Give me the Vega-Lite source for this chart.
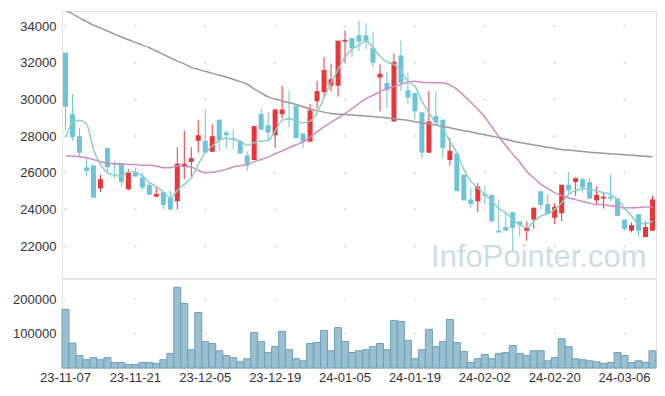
{
  "$schema": "https://vega.github.io/schema/vega-lite/v6.json",
  "padding": {"left": 12, "top": 10, "right": 10, "bottom": 0},
  "background": "white",
  "bounds": "flush",
  "config": {
    "view": {"stroke": "#e3e3e3"},
    "axis": {"labelFont": "Liberation Sans", "labelFontSize": 13, "labelColor": "#333333", "domain": false, "ticks": false, "grid": false, "title": null, "labelPadding": 6}
  },
  "spacing": 1,
  "datasets": {
    "stock": [
      {"d":"23-11-07","o":32550,"h":32550,"l":28300,"c":29600,"v":170000,"m5":27900,"m20":26900,"m60":34850},
      {"d":"23-11-08","o":29200,"h":30300,"l":27750,"c":27950,"v":72000,"m5":28730,"m20":26920,"m60":34660},
      {"d":"23-11-09","o":28000,"h":28450,"l":26900,"c":27100,"v":36000,"m5":28860,"m20":26880,"m60":34450},
      {"d":"23-11-10","o":26300,"h":26800,"l":25800,"c":26100,"v":24000,"m5":28680,"m20":26820,"m60":34250},
      {"d":"23-11-13","o":26400,"h":26450,"l":24650,"c":24650,"v":30000,"m5":27280,"m20":26730,"m60":34050},
      {"d":"23-11-14","o":25150,"h":25900,"l":24950,"c":25650,"v":24000,"m5":26460,"m20":26610,"m60":33900},
      {"d":"23-11-15","o":27350,"h":27350,"l":26000,"c":26300,"v":30000,"m5":26010,"m20":26520,"m60":33730},
      {"d":"23-11-16","o":26500,"h":26650,"l":25700,"c":26450,"v":16000,"m5":25880,"m20":26500,"m60":33560},
      {"d":"23-11-17","o":26500,"h":26500,"l":25250,"c":25500,"v":16000,"m5":25830,"m20":26500,"m60":33400},
      {"d":"23-11-20","o":25100,"h":26200,"l":25050,"c":26000,"v":10000,"m5":26060,"m20":26460,"m60":33250},
      {"d":"23-11-21","o":26000,"h":26300,"l":25800,"c":25800,"v":10000,"m5":26040,"m20":26460,"m60":33110},
      {"d":"23-11-22","o":25750,"h":26000,"l":25050,"c":25200,"v":16000,"m5":25830,"m20":26410,"m60":32960},
      {"d":"23-11-23","o":25350,"h":25450,"l":24800,"c":24800,"v":16000,"m5":25500,"m20":26420,"m60":32820},
      {"d":"23-11-24","o":24700,"h":25250,"l":24700,"c":24850,"v":13000,"m5":25230,"m20":26370,"m60":32640},
      {"d":"23-11-27","o":24950,"h":24950,"l":24000,"c":24250,"v":24000,"m5":24970,"m20":26280,"m60":32460},
      {"d":"23-11-28","o":24650,"h":25050,"l":24000,"c":24000,"v":42000,"m5":24640,"m20":26280,"m60":32270},
      {"d":"23-11-29","o":24450,"h":27400,"l":24000,"c":26500,"v":234000,"m5":25040,"m20":26370,"m60":32090},
      {"d":"23-11-30","o":26350,"h":28300,"l":25650,"c":26500,"v":187000,"m5":25370,"m20":26350,"m60":31940},
      {"d":"23-12-01","o":26600,"h":27400,"l":25800,"c":26800,"v":53000,"m5":25730,"m20":26320,"m60":31750},
      {"d":"23-12-04","o":27750,"h":28900,"l":27100,"c":28050,"v":161000,"m5":26460,"m20":26130,"m60":31640},
      {"d":"23-12-05","o":27750,"h":29450,"l":27100,"c":27100,"v":77000,"m5":27100,"m20":26010,"m60":31530},
      {"d":"23-12-06","o":27150,"h":28650,"l":27150,"c":28000,"v":71000,"m5":27460,"m20":26030,"m60":31420},
      {"d":"23-12-07","o":28900,"h":28900,"l":27200,"c":27800,"v":50000,"m5":27770,"m20":26100,"m60":31320},
      {"d":"23-12-08","o":28200,"h":28300,"l":27350,"c":28050,"v":36000,"m5":27880,"m20":26190,"m60":31220},
      {"d":"23-12-11","o":27900,"h":28350,"l":27300,"c":27800,"v":30000,"m5":27820,"m20":26320,"m60":31100},
      {"d":"23-12-12","o":27750,"h":27750,"l":27050,"c":27050,"v":18000,"m5":27730,"m20":26390,"m60":30970},
      {"d":"23-12-13","o":26950,"h":27150,"l":26100,"c":26400,"v":27000,"m5":27510,"m20":26460,"m60":30830},
      {"d":"23-12-14","o":26700,"h":28550,"l":26700,"c":28550,"v":103000,"m5":27640,"m20":26610,"m60":30580},
      {"d":"23-12-15","o":29200,"h":29500,"l":28350,"c":28350,"v":77000,"m5":27730,"m20":26730,"m60":30360},
      {"d":"23-12-18","o":28600,"h":29300,"l":27750,"c":28200,"v":45000,"m5":27770,"m20":26860,"m60":30140},
      {"d":"23-12-19","o":28050,"h":29500,"l":27350,"c":29450,"v":62000,"m5":28280,"m20":27040,"m60":30020},
      {"d":"23-12-20","o":29200,"h":30750,"l":28950,"c":29450,"v":106000,"m5":28860,"m20":27190,"m60":29920},
      {"d":"23-12-21","o":29000,"h":30500,"l":28500,"c":28900,"v":53000,"m5":28950,"m20":27370,"m60":29820},
      {"d":"23-12-22","o":29650,"h":29650,"l":27900,"c":27900,"v":27000,"m5":28820,"m20":27530,"m60":29720},
      {"d":"23-12-26","o":28150,"h":28150,"l":27350,"c":27700,"v":21000,"m5":28730,"m20":27690,"m60":29600},
      {"d":"23-12-27","o":27700,"h":29750,"l":27700,"c":29400,"v":71000,"m5":28820,"m20":27950,"m60":29480},
      {"d":"23-12-28","o":29900,"h":31000,"l":29500,"c":30450,"v":74000,"m5":29280,"m20":28230,"m60":29390},
      {"d":"24-01-02","o":30400,"h":32300,"l":30100,"c":31600,"v":109000,"m5":30090,"m20":28520,"m60":29310},
      {"d":"24-01-03","o":30750,"h":31950,"l":30450,"c":31100,"v":50000,"m5":30910,"m20":28760,"m60":29230},
      {"d":"24-01-04","o":30750,"h":33200,"l":30150,"c":33200,"v":117000,"m5":31640,"m20":28990,"m60":29200},
      {"d":"24-01-05","o":33150,"h":33750,"l":32000,"c":33250,"v":77000,"m5":32310,"m20":29230,"m60":29180},
      {"d":"24-01-08","o":33350,"h":33350,"l":32300,"c":32800,"v":45000,"m5":32730,"m20":29500,"m60":29150},
      {"d":"24-01-09","o":33500,"h":34300,"l":32650,"c":33150,"v":50000,"m5":32960,"m20":29780,"m60":29130},
      {"d":"24-01-10","o":33500,"h":34150,"l":32750,"c":33150,"v":53000,"m5":33180,"m20":30040,"m60":29100},
      {"d":"24-01-11","o":32800,"h":33700,"l":31750,"c":32000,"v":62000,"m5":32820,"m20":30230,"m60":29070},
      {"d":"24-01-12","o":31200,"h":31900,"l":29350,"c":31400,"v":71000,"m5":32370,"m20":30420,"m60":29030},
      {"d":"24-01-15","o":30900,"h":31500,"l":29550,"c":30500,"v":53000,"m5":32040,"m20":30590,"m60":28990},
      {"d":"24-01-16","o":28800,"h":32500,"l":28800,"c":32050,"v":138000,"m5":31910,"m20":30700,"m60":28950},
      {"d":"24-01-17","o":32400,"h":33200,"l":30450,"c":30900,"v":135000,"m5":31550,"m20":30820,"m60":28910},
      {"d":"24-01-18","o":30500,"h":31450,"l":29750,"c":30100,"v":80000,"m5":31000,"m20":30940,"m60":28870},
      {"d":"24-01-19","o":30350,"h":30350,"l":28900,"c":29350,"v":27000,"m5":30730,"m20":30990,"m60":28790},
      {"d":"24-01-22","o":29300,"h":29300,"l":26800,"c":27100,"v":53000,"m5":29910,"m20":30940,"m60":28730},
      {"d":"24-01-23","o":27100,"h":30450,"l":27100,"c":28800,"v":112000,"m5":29280,"m20":30910,"m60":28680},
      {"d":"24-01-24","o":29100,"h":30450,"l":28750,"c":28750,"v":62000,"m5":28730,"m20":30910,"m60":28610},
      {"d":"24-01-25","o":28900,"h":28900,"l":26800,"c":27350,"v":77000,"m5":28370,"m20":30910,"m60":28530},
      {"d":"24-01-26","o":26700,"h":27900,"l":26400,"c":27200,"v":141000,"m5":27730,"m20":30790,"m60":28460},
      {"d":"24-01-29","o":27050,"h":27050,"l":25000,"c":25000,"v":74000,"m5":27100,"m20":30560,"m60":28380},
      {"d":"24-01-30","o":25900,"h":25900,"l":24500,"c":24500,"v":48000,"m5":26190,"m20":30210,"m60":28300},
      {"d":"24-01-31","o":24550,"h":25200,"l":24100,"c":24300,"v":16000,"m5":25550,"m20":29850,"m60":28230},
      {"d":"24-02-01","o":24450,"h":25450,"l":23850,"c":25250,"v":27000,"m5":25190,"m20":29470,"m60":28150},
      {"d":"24-02-02","o":24850,"h":25300,"l":24300,"c":24750,"v":39000,"m5":24830,"m20":29040,"m60":28080},
      {"d":"24-02-05","o":24800,"h":24800,"l":23350,"c":23350,"v":27000,"m5":24460,"m20":28510,"m60":28000},
      {"d":"24-02-06","o":22850,"h":24550,"l":22750,"c":22750,"v":42000,"m5":24060,"m20":27980,"m60":27920},
      {"d":"24-02-07","o":23050,"h":23850,"l":22850,"c":22850,"v":45000,"m5":23830,"m20":27490,"m60":27830},
      {"d":"24-02-08","o":23850,"h":23850,"l":21750,"c":23000,"v":65000,"m5":23460,"m20":27020,"m60":27740},
      {"d":"24-02-13","o":23350,"h":23350,"l":22550,"c":23150,"v":42000,"m5":23190,"m20":26590,"m60":27650},
      {"d":"24-02-14","o":22850,"h":23350,"l":22300,"c":23000,"v":36000,"m5":23010,"m20":26080,"m60":27590},
      {"d":"24-02-15","o":23450,"h":24100,"l":22950,"c":24100,"v":50000,"m5":23340,"m20":25730,"m60":27520},
      {"d":"24-02-16","o":25000,"h":25000,"l":24000,"c":24250,"v":50000,"m5":23650,"m20":25390,"m60":27460},
      {"d":"24-02-19","o":24300,"h":24850,"l":23750,"c":23750,"v":21000,"m5":23770,"m20":25150,"m60":27400},
      {"d":"24-02-20","o":23550,"h":24350,"l":23200,"c":24150,"v":30000,"m5":24010,"m20":24910,"m60":27330},
      {"d":"24-02-21","o":23800,"h":25350,"l":23350,"c":25350,"v":85000,"m5":24370,"m20":24770,"m60":27270},
      {"d":"24-02-22","o":25350,"h":26050,"l":24850,"c":25050,"v":62000,"m5":24830,"m20":24630,"m60":27240},
      {"d":"24-02-23","o":25500,"h":25750,"l":24750,"c":25700,"v":27000,"m5":25040,"m20":24540,"m60":27200},
      {"d":"24-02-26","o":25650,"h":25750,"l":24900,"c":25200,"v":24000,"m5":25140,"m20":24440,"m60":27160},
      {"d":"24-02-27","o":25500,"h":25700,"l":24600,"c":24600,"v":21000,"m5":25100,"m20":24350,"m60":27120},
      {"d":"24-02-28","o":24500,"h":25250,"l":24300,"c":24800,"v":18000,"m5":25010,"m20":24280,"m60":27090},
      {"d":"24-02-29","o":24600,"h":24900,"l":24050,"c":24700,"v":13000,"m5":24920,"m20":24260,"m60":27070},
      {"d":"24-03-04","o":24700,"h":25900,"l":24450,"c":24600,"v":16000,"m5":24830,"m20":24210,"m60":27040},
      {"d":"24-03-05","o":24600,"h":24600,"l":23650,"c":23650,"v":45000,"m5":24550,"m20":24150,"m60":27020},
      {"d":"24-03-06","o":23450,"h":23450,"l":22850,"c":22950,"v":36000,"m5":24100,"m20":24100,"m60":26990},
      {"d":"24-03-07","o":22850,"h":23300,"l":22750,"c":23150,"v":16000,"m5":23650,"m20":24100,"m60":26960},
      {"d":"24-03-08","o":23750,"h":23750,"l":22550,"c":22850,"v":21000,"m5":23230,"m20":24110,"m60":26930},
      {"d":"24-03-11","o":22500,"h":23350,"l":22500,"c":23050,"v":16000,"m5":23230,"m20":24140,"m60":26900},
      {"d":"24-03-12","o":22850,"h":24750,"l":22850,"c":24550,"v":50000,"m5":23370,"m20":24150,"m60":26880}
    ],
    "grid": [
      {"d":"23-11-07","p":22000},{"d":"23-11-07","p":24000},{"d":"23-11-07","p":26000},{"d":"23-11-07","p":28000},{"d":"23-11-07","p":30000},{"d":"23-11-07","p":32000},{"d":"23-11-07","p":34000},
      {"d":"23-11-21","p":22000},{"d":"23-11-21","p":24000},{"d":"23-11-21","p":26000},{"d":"23-11-21","p":28000},{"d":"23-11-21","p":30000},{"d":"23-11-21","p":32000},{"d":"23-11-21","p":34000},
      {"d":"23-12-05","p":22000},{"d":"23-12-05","p":24000},{"d":"23-12-05","p":26000},{"d":"23-12-05","p":28000},{"d":"23-12-05","p":30000},{"d":"23-12-05","p":32000},{"d":"23-12-05","p":34000},
      {"d":"23-12-19","p":22000},{"d":"23-12-19","p":24000},{"d":"23-12-19","p":26000},{"d":"23-12-19","p":28000},{"d":"23-12-19","p":30000},{"d":"23-12-19","p":32000},{"d":"23-12-19","p":34000},
      {"d":"24-01-05","p":22000},{"d":"24-01-05","p":24000},{"d":"24-01-05","p":26000},{"d":"24-01-05","p":28000},{"d":"24-01-05","p":30000},{"d":"24-01-05","p":32000},{"d":"24-01-05","p":34000},
      {"d":"24-01-19","p":22000},{"d":"24-01-19","p":24000},{"d":"24-01-19","p":26000},{"d":"24-01-19","p":28000},{"d":"24-01-19","p":30000},{"d":"24-01-19","p":32000},{"d":"24-01-19","p":34000},
      {"d":"24-02-02","p":22000},{"d":"24-02-02","p":24000},{"d":"24-02-02","p":26000},{"d":"24-02-02","p":28000},{"d":"24-02-02","p":30000},{"d":"24-02-02","p":32000},{"d":"24-02-02","p":34000},
      {"d":"24-02-20","p":22000},{"d":"24-02-20","p":24000},{"d":"24-02-20","p":26000},{"d":"24-02-20","p":28000},{"d":"24-02-20","p":30000},{"d":"24-02-20","p":32000},{"d":"24-02-20","p":34000},
      {"d":"24-03-06","p":22000},{"d":"24-03-06","p":24000},{"d":"24-03-06","p":26000},{"d":"24-03-06","p":28000},{"d":"24-03-06","p":30000},{"d":"24-03-06","p":32000},{"d":"24-03-06","p":34000}
    ],
    "vgrid": [
      {"d":"23-11-07","p":100000},{"d":"23-11-07","p":200000},
      {"d":"23-11-21","p":100000},{"d":"23-11-21","p":200000},
      {"d":"23-12-05","p":100000},{"d":"23-12-05","p":200000},
      {"d":"23-12-19","p":100000},{"d":"23-12-19","p":200000},
      {"d":"24-01-05","p":100000},{"d":"24-01-05","p":200000},
      {"d":"24-01-19","p":100000},{"d":"24-01-19","p":200000},
      {"d":"24-02-02","p":100000},{"d":"24-02-02","p":200000},
      {"d":"24-02-20","p":100000},{"d":"24-02-20","p":200000},
      {"d":"24-03-06","p":100000},{"d":"24-03-06","p":200000}
    ],
    "mark": [{"label": "InfoPointer.com"}]
  },
  "vconcat": [
    {
      "width": 594,
      "height": 267,
      "layer": [
        {
          "data": {"name": "grid"},
          "mark": {"type": "point", "shape": "M-1,0H1M0,-1V1", "filled": false, "stroke": "#dadada", "strokeWidth": 1, "size": 7, "opacity": 1},
          "encoding": {
            "x": {"field": "d", "type": "ordinal", "scale": {"type": "band", "paddingInner": 0, "paddingOuter": 0}, "axis": null},
            "y": {"field": "p", "type": "quantitative", "scale": {"domain": [20270, 34820], "nice": false, "zero": false}, "axis": {"values": [22000, 24000, 26000, 28000, 30000, 32000, 34000], "format": "d"}}
          }
        },
        {
          "data": {"name": "mark"},
          "mark": {"type": "text", "font": "Liberation Sans", "fontSize": 31, "color": "#cddde6", "align": "right", "baseline": "alphabetic", "dx": -6},
          "encoding": {
            "x": {"datum": "24-03-12", "type": "ordinal"},
            "y": {"datum": 20870, "type": "quantitative", "scale": {"domain": [20270, 34820], "nice": false, "zero": false}},
            "text": {"field": "label"}
          }
        },
        {
          "data": {"name": "stock"},
          "mark": {"type": "rule", "strokeWidth": 1},
          "encoding": {
            "x": {"field": "d", "type": "ordinal"},
            "y": {"field": "l", "type": "quantitative", "scale": {"domain": [20270, 34820], "nice": false, "zero": false}},
            "y2": {"field": "h"},
            "color": {"condition": {"test": "datum.c >= datum.o", "value": "#e8363a"}, "value": "#6cc4d8"}
          }
        },
        {
          "data": {"name": "stock"},
          "mark": {"type": "bar", "width": 5},
          "encoding": {
            "x": {"field": "d", "type": "ordinal"},
            "y": {"field": "o", "type": "quantitative", "scale": {"domain": [20270, 34820], "nice": false, "zero": false}},
            "y2": {"field": "c"},
            "color": {"condition": {"test": "datum.c >= datum.o", "value": "#e8363a"}, "value": "#6cc4d8"}
          }
        },
        {
          "data": {"name": "stock"},
          "mark": {"type": "line", "color": "#999999", "strokeWidth": 1.5, "clip": true, "interpolate": "monotone"},
          "encoding": {
            "x": {"field": "d", "type": "ordinal"},
            "y": {"field": "m60", "type": "quantitative", "scale": {"domain": [20270, 34820], "nice": false, "zero": false}}
          }
        },
        {
          "data": {"name": "stock"},
          "mark": {"type": "line", "color": "#cc8cc4", "strokeWidth": 1.5, "clip": true, "interpolate": "monotone"},
          "encoding": {
            "x": {"field": "d", "type": "ordinal"},
            "y": {"field": "m20", "type": "quantitative", "scale": {"domain": [20270, 34820], "nice": false, "zero": false}}
          }
        },
        {
          "data": {"name": "stock"},
          "mark": {"type": "line", "color": "#8dcfc4", "strokeWidth": 1.5, "clip": true, "interpolate": "monotone"},
          "encoding": {
            "x": {"field": "d", "type": "ordinal"},
            "y": {"field": "m5", "type": "quantitative", "scale": {"domain": [20270, 34820], "nice": false, "zero": false}}
          }
        }
      ]
    },
    {
      "width": 594,
      "height": 89,
      "layer": [
        {
          "data": {"name": "vgrid"},
          "mark": {"type": "point", "shape": "M-1,0H1M0,-1V1", "filled": false, "stroke": "#dadada", "strokeWidth": 1, "size": 7},
          "encoding": {
            "x": {"field": "d", "type": "ordinal", "scale": {"type": "band", "paddingInner": 0, "paddingOuter": 0},
                  "axis": {"values": ["23-11-07", "23-11-21", "23-12-05", "23-12-19", "24-01-05", "24-01-19", "24-02-02", "24-02-20", "24-03-06"], "labelAngle": 0, "labelPadding": 3}},
            "y": {"field": "p", "type": "quantitative", "scale": {"domain": [0, 258000], "nice": false}, "axis": {"values": [100000, 200000], "format": "d"}}
          }
        },
        {
          "data": {"name": "stock"},
          "mark": {"type": "bar", "fill": "#99c0d0", "stroke": "#6f9fb8", "strokeWidth": 1, "width": {"band": 1}},
          "encoding": {
            "x": {"field": "d", "type": "ordinal"},
            "y": {"field": "v", "type": "quantitative", "scale": {"domain": [0, 258000], "nice": false}}
          }
        }
      ]
    }
  ]
}
